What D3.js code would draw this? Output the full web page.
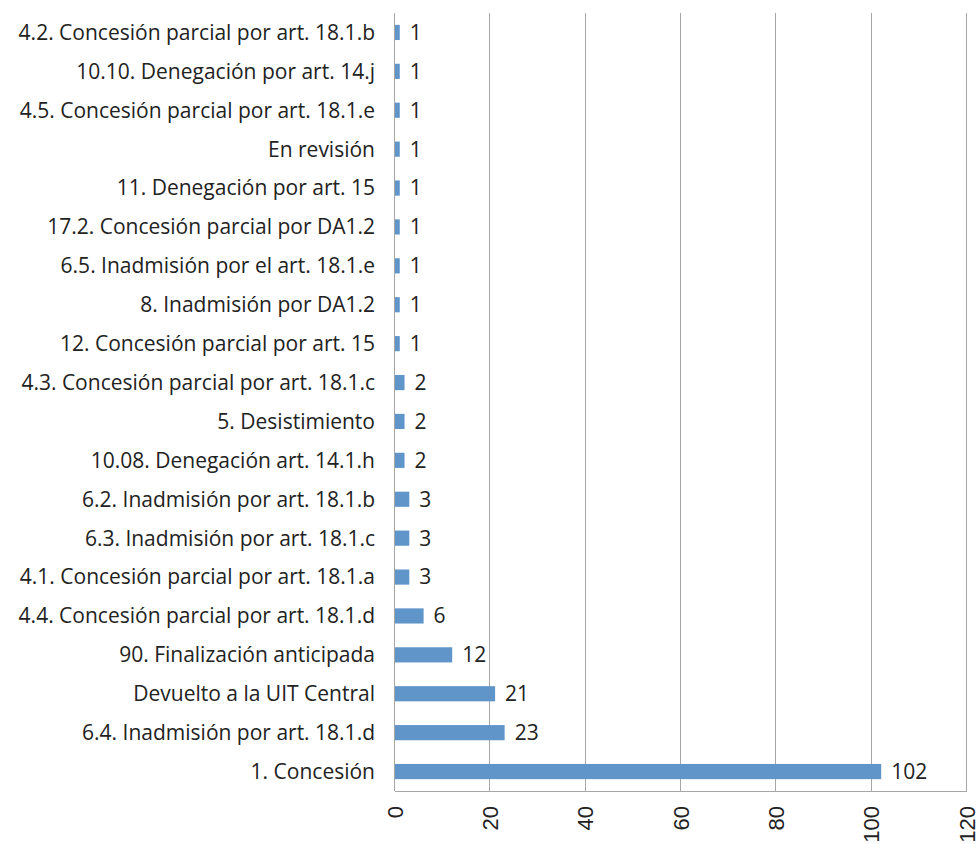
<!DOCTYPE html>
<meta charset="utf-8">
<style>
    body { margin: 0; background: #fff; }
    text { font-family: "Open Sans", sans-serif; font-size: 21px; fill: #222; }
    .tick-label { font-family: "Liberation Sans", Arial, sans-serif; font-size: 22px; }
</style>
<svg width="976" height="844"></svg>
<script src="https://d3js.org/d3.v7.min.js"></script>
<script>

    var categories = [
        "4.2. Concesión parcial por art. 18.1.b",
        "10.10. Denegación por art. 14.j",
        "4.5. Concesión parcial por art. 18.1.e",
        "En revisión",
        "11. Denegación por art. 15",
        "17.2. Concesión parcial por DA1.2",
        "6.5. Inadmisión por el art. 18.1.e",
        "8. Inadmisión por DA1.2",
        "12. Concesión parcial por art. 15",
        "4.3. Concesión parcial por art. 18.1.c",
        "5. Desistimiento",
        "10.08. Denegación art. 14.1.h",
        "6.2. Inadmisión por art. 18.1.b",
        "6.3. Inadmisión por art. 18.1.c",
        "4.1. Concesión parcial por art. 18.1.a",
        "4.4. Concesión parcial por art. 18.1.d",
        "90. Finalización anticipada",
        "Devuelto a la UIT Central",
        "6.4. Inadmisión por art. 18.1.d",
        "1. Concesión"
    ];
    var values = [1, 1, 1, 1, 1, 1, 1, 1, 1, 2, 2, 2, 3, 3, 3, 6, 12, 21, 23, 102];
    var xTicks = [0, 20, 40, 60, 80, 100, 120];

    var svg = d3.select("svg");
    var plotLeft = 395, plotRight = 967, plotTop = 13, plotBottom = 791;

    var x = d3.scaleLinear().domain([0, 120]).range([plotLeft, plotRight]);
    var y = d3.scaleBand().domain(categories).range([plotTop, plotBottom]).paddingInner(0.61).paddingOuter(0.305);

    // gridlines
    svg.append("g")
        .selectAll("line")
        .data(xTicks)
        .enter().append("line")
        .attr("x1", function (d) { return Math.round(x(d)) - 0.5; })
        .attr("x2", function (d) { return Math.round(x(d)) - 0.5; })
        .attr("y1", plotTop)
        .attr("y2", plotBottom)
        .attr("stroke", "#a6a6a6")
        .attr("stroke-width", 1);

    // bottom axis line
    svg.append("line")
        .attr("x1", plotLeft).attr("x2", plotRight)
        .attr("y1", plotBottom + 0.5).attr("y2", plotBottom + 0.5)
        .attr("stroke", "#a6a6a6");

    // bars
    svg.append("g")
        .selectAll("rect")
        .data(values)
        .enter().append("rect")
        .attr("x", x(0))
        .attr("y", function (d, i) { return y(categories[i]); })
        .attr("width", function (d) { return x(d) - x(0); })
        .attr("height", y.bandwidth())
        .attr("fill", "#5f95c9");

    // value labels
    svg.append("g")
        .selectAll("text")
        .data(values)
        .enter().append("text")
        .attr("x", function (d) { return x(d) + 10; })
        .attr("y", function (d, i) { return y(categories[i]) + y.bandwidth() / 2; })
        .attr("dy", "0.35em")
        .text(function (d) { return d; });

    // category labels
    svg.append("g")
        .selectAll("text")
        .data(categories)
        .enter().append("text")
        .attr("x", plotLeft - 20)
        .attr("y", function (d) { return y(d) + y.bandwidth() / 2; })
        .attr("dy", "0.35em")
        .attr("text-anchor", "end")
        .text(function (d) { return d; });

    // x tick labels, rotated
    svg.append("g")
        .selectAll("text")
        .data(xTicks)
        .enter().append("text")
        .attr("class", "tick-label")
        .attr("transform", function (d) { return "translate(" + x(d) + "," + 806 + ") rotate(-90)"; })
        .attr("dy", "0.35em")
        .attr("text-anchor", "end")
        .text(function (d) { return d; });

</script>
